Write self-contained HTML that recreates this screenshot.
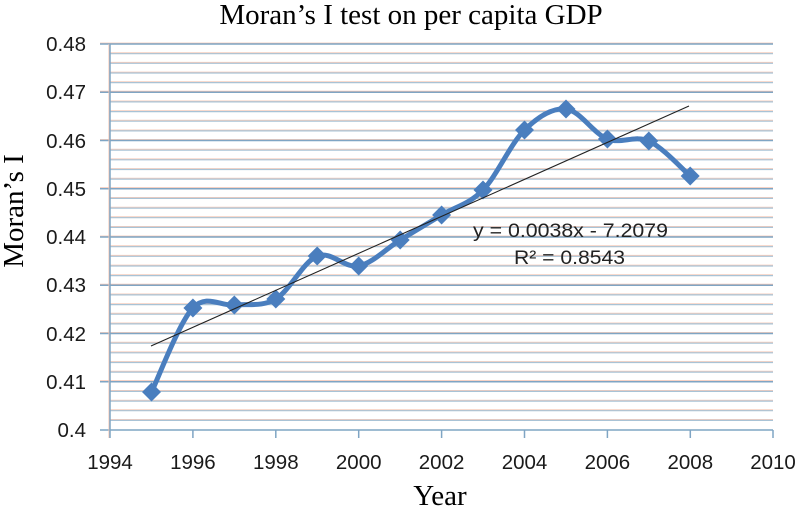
<!DOCTYPE html>
<html><head><meta charset="utf-8"><style>
html,body{margin:0;padding:0;background:#fff;}
svg{display:block;}
</style></head><body>
<svg width="804" height="508" viewBox="0 0 804 508" xmlns="http://www.w3.org/2000/svg">
<rect width="804" height="508" fill="#fff"/>
<g stroke-width="1.2">
<g stroke="#f6cdbd">
<line x1="110" x2="773" y1="52.9" y2="52.9"/><line x1="110" x2="773" y1="62.5" y2="62.5"/><line x1="110" x2="773" y1="72.2" y2="72.2"/><line x1="110" x2="773" y1="81.8" y2="81.8"/>
<line x1="110" x2="773" y1="101.1" y2="101.1"/><line x1="110" x2="773" y1="110.8" y2="110.8"/><line x1="110" x2="773" y1="120.4" y2="120.4"/><line x1="110" x2="773" y1="130.1" y2="130.1"/>
<line x1="110" x2="773" y1="149.4" y2="149.4"/><line x1="110" x2="773" y1="159" y2="159"/><line x1="110" x2="773" y1="168.7" y2="168.7"/><line x1="110" x2="773" y1="178.3" y2="178.3"/>
<line x1="110" x2="773" y1="197.6" y2="197.6"/><line x1="110" x2="773" y1="207.3" y2="207.3"/><line x1="110" x2="773" y1="216.9" y2="216.9"/><line x1="110" x2="773" y1="226.6" y2="226.6"/>
<line x1="110" x2="773" y1="245.9" y2="245.9"/><line x1="110" x2="773" y1="255.5" y2="255.5"/><line x1="110" x2="773" y1="265.2" y2="265.2"/><line x1="110" x2="773" y1="274.8" y2="274.8"/>
<line x1="110" x2="773" y1="294.1" y2="294.1"/><line x1="110" x2="773" y1="303.8" y2="303.8"/><line x1="110" x2="773" y1="313.4" y2="313.4"/><line x1="110" x2="773" y1="323.1" y2="323.1"/>
<line x1="110" x2="773" y1="342.4" y2="342.4"/><line x1="110" x2="773" y1="352" y2="352"/><line x1="110" x2="773" y1="361.7" y2="361.7"/><line x1="110" x2="773" y1="371.3" y2="371.3"/>
<line x1="110" x2="773" y1="390.6" y2="390.6"/><line x1="110" x2="773" y1="400.3" y2="400.3"/><line x1="110" x2="773" y1="409.9" y2="409.9"/><line x1="110" x2="773" y1="419.6" y2="419.6"/>
</g>
<g stroke="#a9c3d6">
<line x1="110" x2="773" y1="53.7" y2="53.7"/><line x1="110" x2="773" y1="63.3" y2="63.3"/><line x1="110" x2="773" y1="73" y2="73"/><line x1="110" x2="773" y1="82.6" y2="82.6"/>
<line x1="110" x2="773" y1="101.9" y2="101.9"/><line x1="110" x2="773" y1="111.6" y2="111.6"/><line x1="110" x2="773" y1="121.2" y2="121.2"/><line x1="110" x2="773" y1="130.9" y2="130.9"/>
<line x1="110" x2="773" y1="150.2" y2="150.2"/><line x1="110" x2="773" y1="159.8" y2="159.8"/><line x1="110" x2="773" y1="169.5" y2="169.5"/><line x1="110" x2="773" y1="179.1" y2="179.1"/>
<line x1="110" x2="773" y1="198.4" y2="198.4"/><line x1="110" x2="773" y1="208.1" y2="208.1"/><line x1="110" x2="773" y1="217.7" y2="217.7"/><line x1="110" x2="773" y1="227.4" y2="227.4"/>
<line x1="110" x2="773" y1="246.7" y2="246.7"/><line x1="110" x2="773" y1="256.3" y2="256.3"/><line x1="110" x2="773" y1="266" y2="266"/><line x1="110" x2="773" y1="275.6" y2="275.6"/>
<line x1="110" x2="773" y1="294.9" y2="294.9"/><line x1="110" x2="773" y1="304.6" y2="304.6"/><line x1="110" x2="773" y1="314.2" y2="314.2"/><line x1="110" x2="773" y1="323.9" y2="323.9"/>
<line x1="110" x2="773" y1="343.2" y2="343.2"/><line x1="110" x2="773" y1="352.8" y2="352.8"/><line x1="110" x2="773" y1="362.5" y2="362.5"/><line x1="110" x2="773" y1="372.1" y2="372.1"/>
<line x1="110" x2="773" y1="391.4" y2="391.4"/><line x1="110" x2="773" y1="401.1" y2="401.1"/><line x1="110" x2="773" y1="410.7" y2="410.7"/><line x1="110" x2="773" y1="420.4" y2="420.4"/>
</g>
<g stroke="#f3c4b2">
<line x1="100" x2="773" y1="43.2" y2="43.2"/><line x1="100" x2="773" y1="91.4" y2="91.4"/><line x1="100" x2="773" y1="139.7" y2="139.7"/><line x1="100" x2="773" y1="187.9" y2="187.9"/><line x1="100" x2="773" y1="236.2" y2="236.2"/><line x1="100" x2="773" y1="284.4" y2="284.4"/><line x1="100" x2="773" y1="332.7" y2="332.7"/><line x1="100" x2="773" y1="380.9" y2="380.9"/>
</g>
<g stroke="#7fa5c4" stroke-width="1.5">
<line x1="100" x2="773" y1="44" y2="44"/><line x1="100" x2="773" y1="92.2" y2="92.2"/><line x1="100" x2="773" y1="140.5" y2="140.5"/><line x1="100" x2="773" y1="188.7" y2="188.7"/><line x1="100" x2="773" y1="237" y2="237"/><line x1="100" x2="773" y1="285.2" y2="285.2"/><line x1="100" x2="773" y1="333.5" y2="333.5"/><line x1="100" x2="773" y1="381.7" y2="381.7"/><line x1="100" x2="773" y1="430" y2="430"/>
</g>
</g>
<!-- axes -->
<line x1="109" x2="109" y1="44" y2="438" stroke="#f3c4b2" stroke-width="1"/>
<line x1="110" x2="110" y1="44" y2="438" stroke="#7fa5c4" stroke-width="1.5"/>
<g stroke="#7fa5c4" stroke-width="1.5">
<line x1="192.9" x2="192.9" y1="430" y2="438"/><line x1="275.8" x2="275.8" y1="430" y2="438"/><line x1="358.7" x2="358.7" y1="430" y2="438"/><line x1="441.6" x2="441.6" y1="430" y2="438"/><line x1="524.5" x2="524.5" y1="430" y2="438"/><line x1="607.4" x2="607.4" y1="430" y2="438"/><line x1="690.3" x2="690.3" y1="430" y2="438"/><line x1="773" x2="773" y1="430" y2="438"/>
</g>
<!-- y tick labels -->
<g font-family="Liberation Sans, sans-serif" font-size="20.5" fill="#1a1a1a" text-anchor="end">
<text x="86" y="51">0.48</text><text x="86" y="99">0.47</text><text x="86" y="148">0.46</text><text x="86" y="196">0.45</text><text x="86" y="244">0.44</text><text x="86" y="292">0.43</text><text x="86" y="341">0.42</text><text x="86" y="389">0.41</text><text x="86" y="437">0.4</text>
</g>
<!-- x tick labels -->
<g font-family="Liberation Sans, sans-serif" font-size="20.5" fill="#1a1a1a" text-anchor="middle">
<text x="110" y="469">1994</text><text x="192.9" y="469">1996</text><text x="275.8" y="469">1998</text><text x="358.7" y="469">2000</text><text x="441.6" y="469">2002</text><text x="524.5" y="469">2004</text><text x="607.4" y="469">2006</text><text x="690.3" y="469">2008</text><text x="773" y="469">2010</text>
</g>
<!-- series -->
<path d="M151.5,392 C158.4,378 179.1,322.5 192.9,308 C206.7,293.5 220.5,306.5 234.3,305 C248.1,303.5 262,307.2 275.8,299 C289.6,290.8 303.4,261.5 317.2,256 C331,250.5 344.9,268.7 358.7,266 C372.5,263.3 386.4,248.5 400.2,240 C414,231.5 427.8,223.3 441.6,215 C455.4,206.7 469.2,204.2 483,190 C496.8,175.8 510.7,143.5 524.5,130 C538.3,116.5 552.2,107.5 566,109 C579.8,110.5 593.6,133.7 607.4,139 C621.2,144.3 635,134.8 648.8,141 C662.6,147.2 683.3,170.2 690.2,176" fill="none" stroke="#4a7ebe" stroke-width="5" stroke-linejoin="round"/>
<g fill="#4a7ebe">
<path d="M151.5,382.5 l9.5,9.5 l-9.5,9.5 l-9.5,-9.5z"/>
<path d="M192.9,298.5 l9.5,9.5 l-9.5,9.5 l-9.5,-9.5z"/>
<path d="M234.3,295.5 l9.5,9.5 l-9.5,9.5 l-9.5,-9.5z"/>
<path d="M275.8,289.5 l9.5,9.5 l-9.5,9.5 l-9.5,-9.5z"/>
<path d="M317.2,246.5 l9.5,9.5 l-9.5,9.5 l-9.5,-9.5z"/>
<path d="M358.7,256.5 l9.5,9.5 l-9.5,9.5 l-9.5,-9.5z"/>
<path d="M400.2,230.5 l9.5,9.5 l-9.5,9.5 l-9.5,-9.5z"/>
<path d="M441.6,205.5 l9.5,9.5 l-9.5,9.5 l-9.5,-9.5z"/>
<path d="M483,180.5 l9.5,9.5 l-9.5,9.5 l-9.5,-9.5z"/>
<path d="M524.5,120.5 l9.5,9.5 l-9.5,9.5 l-9.5,-9.5z"/>
<path d="M566,99.5 l9.5,9.5 l-9.5,9.5 l-9.5,-9.5z"/>
<path d="M607.4,129.5 l9.5,9.5 l-9.5,9.5 l-9.5,-9.5z"/>
<path d="M648.8,131.5 l9.5,9.5 l-9.5,9.5 l-9.5,-9.5z"/>
<path d="M690.2,166.5 l9.5,9.5 l-9.5,9.5 l-9.5,-9.5z"/>
</g>
<!-- trend line -->
<line x1="151" y1="346" x2="689" y2="106" stroke="#222" stroke-width="1.1"/>
<!-- equation -->
<g font-family="Liberation Sans, sans-serif" font-size="19" fill="#222">
<text x="473" y="237" textLength="195" lengthAdjust="spacingAndGlyphs">y = 0.0038x - 7.2079</text>
<text x="514" y="264" textLength="111" lengthAdjust="spacingAndGlyphs">R² = 0.8543</text>
</g>
<!-- titles -->
<text x="411" y="24" font-family="Liberation Serif, serif" font-size="29" fill="#000" text-anchor="middle">Moran’s I test on per capita GDP</text>
<text x="440" y="505" font-family="Liberation Serif, serif" font-size="29" fill="#000" text-anchor="middle">Year</text>
<text transform="translate(23,211) rotate(-90)" font-family="Liberation Serif, serif" font-size="29" fill="#000" text-anchor="middle">Moran’s I</text>
</svg>
</body></html>
